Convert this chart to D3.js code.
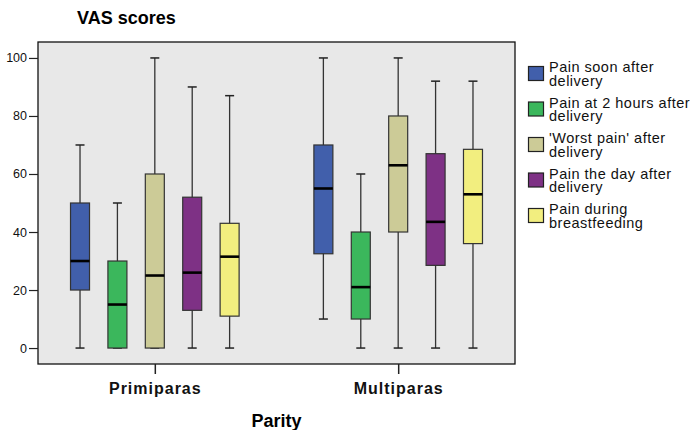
<!DOCTYPE html>
<html lang="en">
<head>
<meta charset="UTF-8">
<title>VAS scores</title>
<script src="https://d3js.org/d3.v7.min.js"></script>
<style>
  body { margin: 0; background: #fff; }
  svg { font-family: "Liberation Sans", Arial, sans-serif; }
</style>
</head>
<body>
<div id="chart"></div>
<script>
const groups = ["Primiparas", "Multiparas"];
const series = [
  ["Pain soon after", "delivery"],
  ["Pain at 2 hours after", "delivery"],
  ["'Worst pain' after", "delivery"],
  ["Pain the day after", "delivery"],
  ["Pain during", "breastfeeding"]
];
const colors = ["#415fab", "#3bb75c", "#cccb97", "#7e3185", "#f2ee7f"];

// per group, one value per series
const whiskerLow  = [[0, 0, 0, 0, 0],        [10, 0, 0, 0, 0]];
const q1          = [[20, 0, 0, 13, 11],     [32.5, 10, 40, 28.5, 36]];
const median      = [[30, 15, 25, 26, 31.5], [55, 21, 63, 43.5, 53]];
const q3          = [[50, 30, 60, 52, 43],   [70, 40, 80, 67, 68.5]];
const whiskerHigh = [[70, 50, 100, 90, 87],  [100, 60, 100, 92, 92]];
const yTicks = [0, 20, 40, 60, 80, 100];

const W = 696, H = 430;
const plot = { left: 38, right: 515, top: 42, bottom: 364 };

const svg = d3.select("#chart").append("svg")
  .attr("width", W).attr("height", H);

const x = d3.scalePoint().domain(groups).range([plot.left, plot.right]).padding(0.48);
const inner = d3.scalePoint().domain(d3.range(series.length)).range([-74.8, 74.8]);
const y = d3.scaleLinear().domain([-5.5, 105.5]).range([plot.bottom, plot.top]);

const boxW = 19, capW = 9;

// background
svg.append("rect")
  .attr("x", plot.left).attr("y", plot.top)
  .attr("width", plot.right - plot.left).attr("height", plot.bottom - plot.top)
  .attr("fill", "#e8e8e8").attr("stroke", "#111").attr("stroke-width", 1.3);

// title
svg.append("text").attr("x", 77).attr("y", 24)
  .attr("font-size", 18).attr("font-weight", "bold").text("VAS scores");

// y axis
const yAxis = svg.append("g")
  .attr("transform", `translate(${plot.left},0)`)
  .call(d3.axisLeft(y).tickValues(yTicks).tickSize(9).tickPadding(2));
yAxis.select(".domain").remove();
yAxis.selectAll("line").attr("stroke", "#222").attr("stroke-width", 1.2);
yAxis.selectAll("text").attr("font-size", 12.5).attr("fill", "#111")
  .attr("font-family", "Liberation Sans, Arial, sans-serif");

// x axis
const xAxis = svg.append("g")
  .attr("transform", `translate(0,${plot.bottom})`)
  .call(d3.axisBottom(x).tickSize(10).tickPadding(9));
xAxis.select(".domain").remove();
xAxis.selectAll("line").attr("stroke", "#222").attr("stroke-width", 1.5);
xAxis.selectAll("text").attr("font-size", 16).attr("font-weight", "bold")
  .attr("letter-spacing", 1).attr("fill", "#111")
  .attr("font-family", "Liberation Sans, Arial, sans-serif");

svg.append("text").attr("x", (plot.left + plot.right) / 2).attr("y", 426.5)
  .attr("text-anchor", "middle").attr("font-size", 18).attr("font-weight", "bold")
  .text("Parity");

// boxes
groups.forEach((g, gi) => {
  series.forEach((s, si) => {
    const cx = x(g) + inner(si);
    const bx = svg.append("g");
    // whisker
    bx.append("line").attr("x1", cx).attr("x2", cx)
      .attr("y1", y(whiskerLow[gi][si])).attr("y2", y(whiskerHigh[gi][si]))
      .attr("stroke", "#333").attr("stroke-width", 1.3);
    [whiskerLow[gi][si], whiskerHigh[gi][si]].forEach(v => {
      bx.append("line").attr("x1", cx - capW / 2).attr("x2", cx + capW / 2)
        .attr("y1", y(v)).attr("y2", y(v))
        .attr("stroke", "#222").attr("stroke-width", 1.5);
    });
    bx.append("rect")
      .attr("x", cx - boxW / 2).attr("width", boxW)
      .attr("y", y(q3[gi][si])).attr("height", y(q1[gi][si]) - y(q3[gi][si]))
      .attr("fill", colors[si]).attr("stroke", "#333").attr("stroke-width", 1.2);
    bx.append("line").attr("x1", cx - boxW / 2).attr("x2", cx + boxW / 2)
      .attr("y1", y(median[gi][si])).attr("y2", y(median[gi][si]))
      .attr("stroke", "#000").attr("stroke-width", 2.6);
  });
});

// legend
const legend = svg.append("g").attr("transform", "translate(528.5,66.5)");
series.forEach((s, i) => {
  const item = legend.append("g").attr("transform", `translate(0,${i * 35.5})`);
  item.append("rect").attr("width", 15).attr("height", 14)
    .attr("fill", colors[i]).attr("stroke", "#222").attr("stroke-width", 1.2);
  const t = item.append("text").attr("x", 20.5).attr("y", 5.6)
    .attr("font-size", 14.5).attr("letter-spacing", 0.5).attr("fill", "#111");
  t.append("tspan").attr("x", 20.5).text(s[0]);
  t.append("tspan").attr("x", 20.5).attr("dy", 13.6).text(s[1]);
});
</script>
</body>
</html>
